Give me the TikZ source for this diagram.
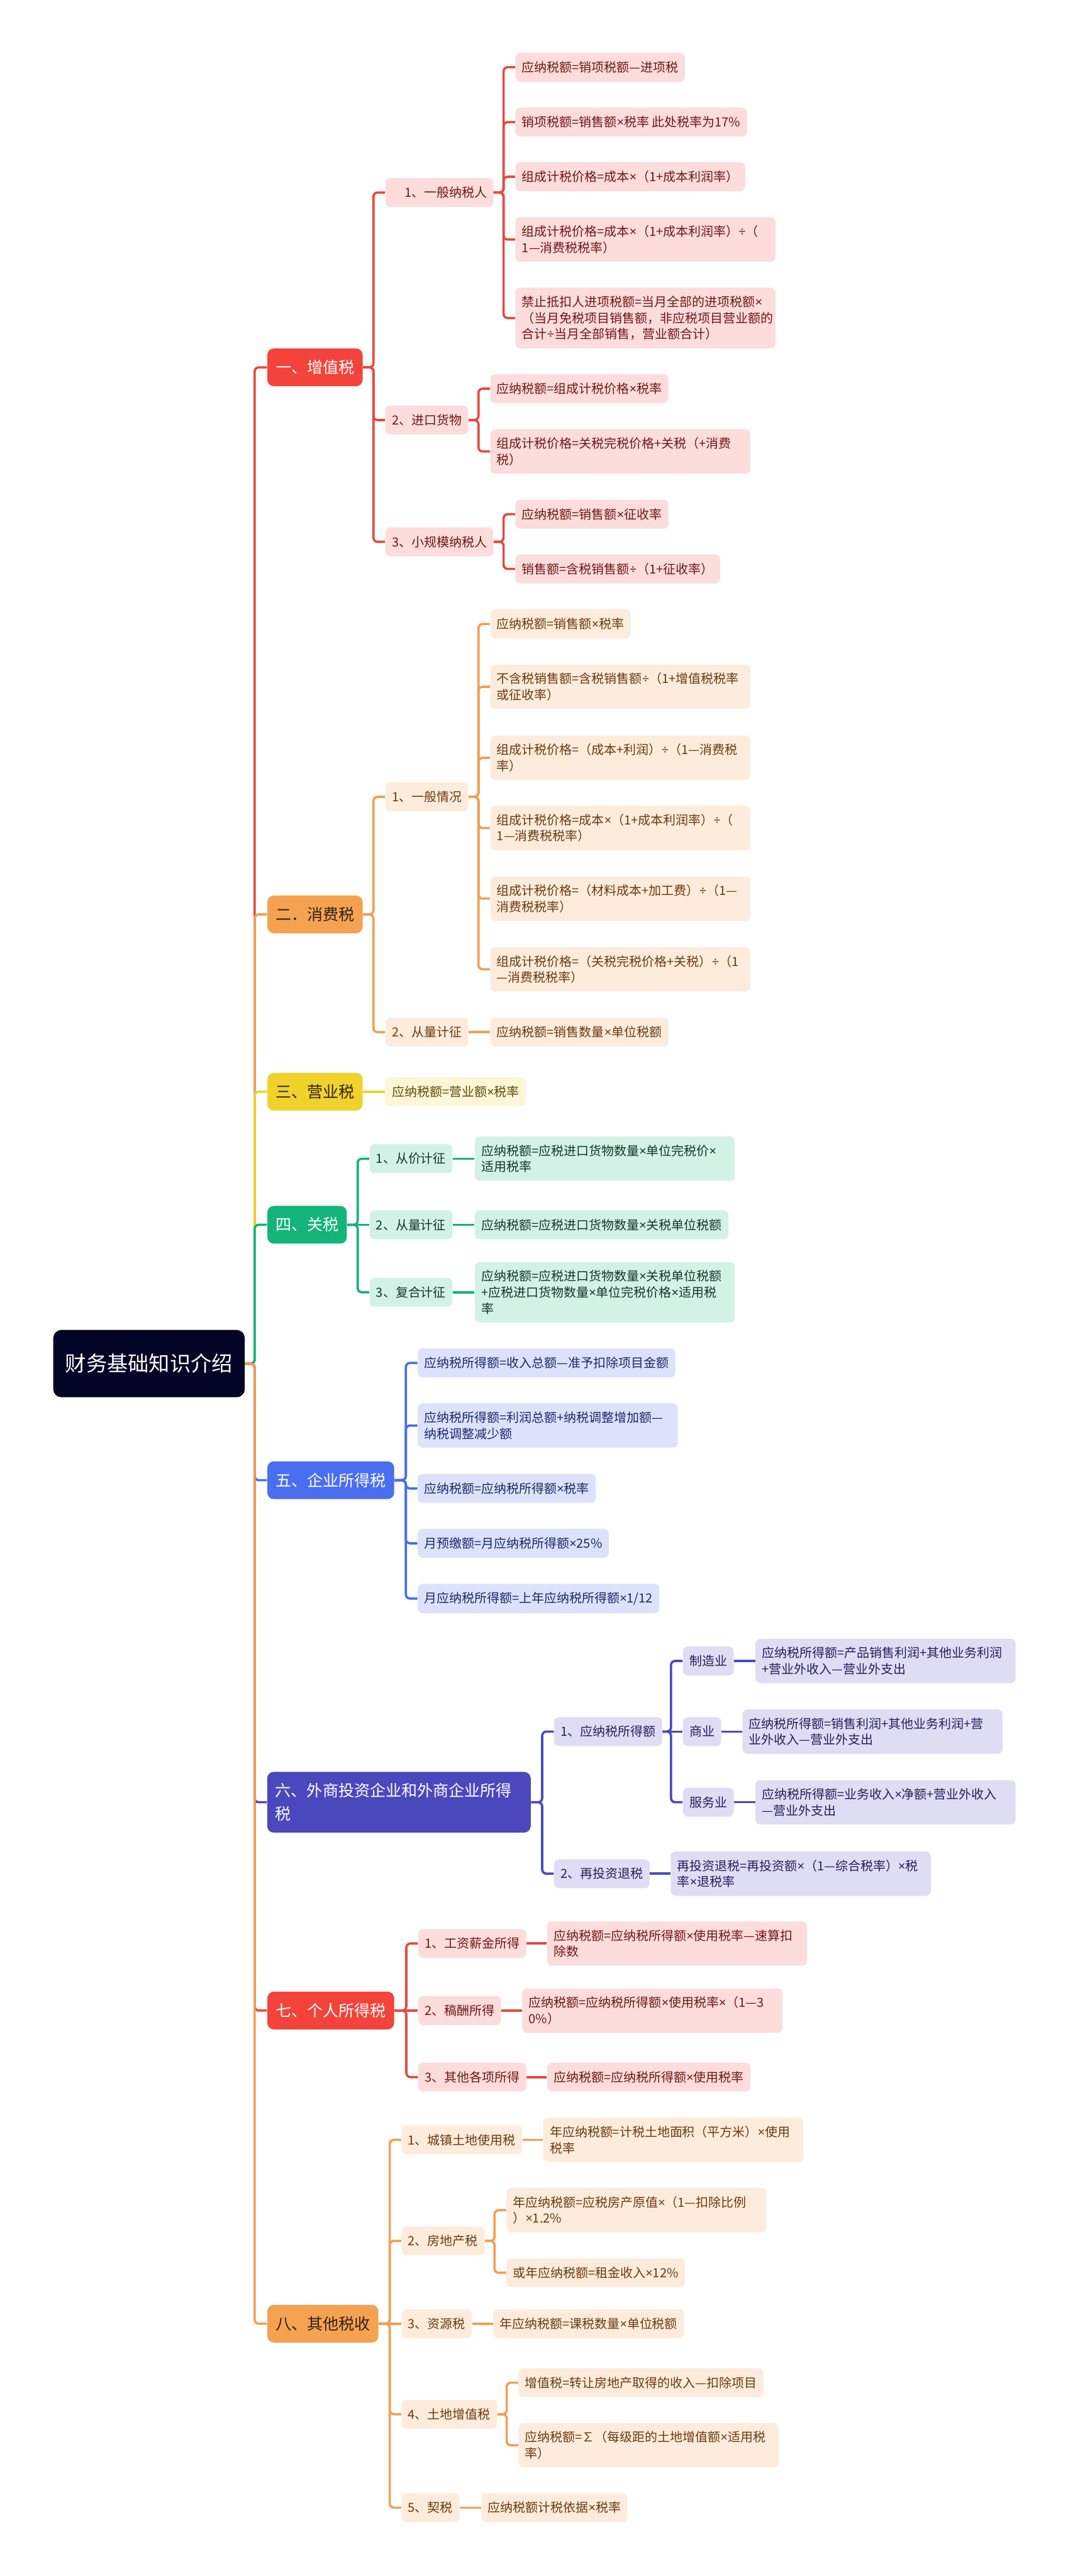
\documentclass[tikz,border=0pt]{standalone}
\usepackage{fontspec}
\setmainfont{Noto Sans CJK SC}
\newfontfamily\latinfont{Noto Sans}

\definecolor{rootcol}{RGB}{3,4,38}
\definecolor{redD}{RGB}{244,67,58}
\definecolor{redL}{RGB}{253,220,220}
\definecolor{redT}{RGB}{110,22,22}
\definecolor{redC}{RGB}{232,72,62}
\definecolor{orgD}{RGB}{245,162,80}
\definecolor{orgL}{RGB}{253,236,220}
\definecolor{orgT}{RGB}{105,58,12}
\definecolor{orgC}{RGB}{240,160,85}
\definecolor{darkT}{RGB}{48,34,20}
\definecolor{ylwD}{RGB}{240,210,45}
\definecolor{ylwL}{RGB}{253,246,215}
\definecolor{ylwT}{RGB}{90,75,5}
\definecolor{ylwC}{RGB}{240,208,50}
\definecolor{grnD}{RGB}{20,180,122}
\definecolor{grnL}{RGB}{210,242,229}
\definecolor{grnT}{RGB}{20,55,42}
\definecolor{grnC}{RGB}{20,178,122}
\definecolor{bluD}{RGB}{74,110,240}
\definecolor{bluL}{RGB}{220,226,251}
\definecolor{bluT}{RGB}{28,40,105}
\definecolor{bluC}{RGB}{74,108,240}
\definecolor{indD}{RGB}{75,72,190}
\definecolor{indL}{RGB}{222,221,244}
\definecolor{indT}{RGB}{35,33,90}
\definecolor{indC}{RGB}{75,73,190}

\newcommand{\rootfont}{\fontsize{12.75}{15}\selectfont}
\newcommand{\topfont}{\fontsize{9.6}{14}\selectfont}
\newcommand{\subfont}{\fontsize{7.65}{9.8}\selectfont}
% narrow multiplication and division signs
\newcommand{\xmul}{{\latinfont ×}}
\newcommand{\xdiv}{{\latinfont ÷}}

\tikzset{
  rootbox/.style={fill=rootcol, text=white, rounded corners=5, font=\rootfont,
    inner xsep=7.3, minimum height=41, anchor=west},
  topbox/.style={rounded corners=4, font=\topfont, inner xsep=5, inner ysep=6,
    minimum height=23, anchor=west},
  subbox/.style={rounded corners=3, font=\subfont, inner xsep=4, inner ysep=5,
    minimum height=17.6, anchor=west},
  wrapbox/.style={text width=150.3pt, align=left},
  topred/.style={topbox, fill=redD, text=white},
  subred/.style={subbox, fill=redL, text=redT},
  toporg/.style={topbox, fill=orgD, text=darkT},
  suborg/.style={subbox, fill=orgL, text=orgT},
  topylw/.style={topbox, fill=ylwD, text=darkT},
  subylw/.style={subbox, fill=ylwL, text=ylwT},
  topgrn/.style={topbox, fill=grnD, text=white},
  subgrn/.style={subbox, fill=grnL, text=grnT},
  topblu/.style={topbox, fill=bluD, text=white},
  subblu/.style={subbox, fill=bluL, text=bluT},
  topind/.style={topbox, fill=indD, text=white},
  subind/.style={subbox, fill=indL, text=indT},
  conn/.style={line width=1.4pt, rounded corners=2.5}
}

\begin{document}
\begin{tikzpicture}[x=1pt,y=1pt,yscale=-1]
\useasboundingbox (0,0) rectangle (650,1568);

% root
\node[rootbox] (root) at (32.2,830) {财务基础知识介绍};

% 一、增值税
\node[topred] (t1) at (162.5,223.6) {一、增值税};
\node[subred] (t1a) at (234.3,117.2) {\hspace{1em}1、一般纳税人};
\node[subred] (t1a1) at (313.5,40.9) {应纳税额=销项税额—进项税};
\node[subred] (t1a2) at (313.5,74.3) {销项税额=销售额\xmul 税率 此处税率为17\%};
\node[subred] (t1a3) at (313.5,107.6) {组成计税价格=成本\xmul（1+成本利润率）};
\node[subred,wrapbox] (t1a4) at (313.5,145.8) {组成计税价格=成本\xmul（1+成本利润率）\xdiv（\\1—消费税税率）};
\node[subred,wrapbox] (t1a5) at (313.5,193.6) {禁止抵扣人进项税额=当月全部的进项税额\xmul\\（当月免税项目销售额，非应税项目营业额的\\合计\xdiv 当月全部销售，营业额合计）};
\node[subred] (t1b) at (234.3,255.7) {2、进口货物};
\node[subred] (t1b1) at (298.2,236.6) {应纳税额=组成计税价格\xmul 税率};
\node[subred,wrapbox] (t1b2) at (298.2,274.8) {组成计税价格=关税完税价格+关税（+消费\\税）};
\node[subred] (t1c) at (234.3,329.8) {3、小规模纳税人};
\node[subred] (t1c1) at (313.5,313) {应纳税额=销售额\xmul 征收率};
\node[subred] (t1c2) at (313.5,346.3) {销售额=含税销售额\xdiv（1+征收率）};

% 二、消费税
\node[toporg] (t2) at (162.5,556.6) {二．消费税};
\node[suborg] (t2a) at (234.3,485) {1、一般情况};
\node[suborg] (t2a1) at (298.2,379.8) {应纳税额=销售额\xmul 税率};
\node[suborg,wrapbox] (t2a2) at (298.2,418) {不含税销售额=含税销售额\xdiv（1+增值税税率\\或征收率）};
\node[suborg,wrapbox] (t2a3) at (298.2,461.3) {组成计税价格=（成本+利润）\xdiv（1—消费税\\率）};
\node[suborg,wrapbox] (t2a4) at (298.2,504) {组成计税价格=成本\xmul（1+成本利润率）\xdiv（\\1—消费税税率）};
\node[suborg,wrapbox] (t2a5) at (298.2,547) {组成计税价格=（材料成本+加工费）\xdiv（1—\\消费税税率）};
\node[suborg,wrapbox] (t2a6) at (298.2,590) {组成计税价格=（关税完税价格+关税）\xdiv（1\\—消费税税率）};
\node[suborg] (t2b) at (234.3,628.3) {2、从量计征};
\node[suborg] (t2b1) at (298.2,628.3) {应纳税额=销售数量\xmul 单位税额};

% 三、营业税
\node[topylw] (t3) at (162.5,664.5) {三、营业税};
\node[subylw] (t3a) at (234.4,664.5) {应纳税额=营业额\xmul 税率};

% 四、关税
\node[topgrn] (t4) at (162.5,745.5) {四、关税};
\node[subgrn] (t4a) at (224.7,705.3) {1、从价计征};
\node[subgrn,wrapbox] (t4a1) at (288.8,705.3) {应纳税额=应税进口货物数量\xmul 单位完税价\xmul\\适用税率};
\node[subgrn] (t4b) at (224.7,745.5) {2、从量计征};
\node[subgrn] (t4b1) at (288.8,745.5) {应纳税额=应税进口货物数量\xmul 关税单位税额};
\node[subgrn] (t4c) at (224.7,786.6) {3、复合计征};
\node[subgrn,wrapbox] (t4c1) at (288.8,786.6) {应纳税额=应税进口货物数量\xmul 关税单位税额\\+应税进口货物数量\xmul 单位完税价格\xmul 适用税\\率};

% 五、企业所得税
\node[topblu] (t5) at (162.5,901) {五、企业所得税};
\node[subblu] (t5a) at (254,829.6) {应纳税所得额=收入总额—准予扣除项目金额};
\node[subblu,wrapbox] (t5b) at (254,867.7) {应纳税所得额=利润总额+纳税调整增加额—\\纳税调整减少额};
\node[subblu] (t5c) at (254,906) {应纳税额=应纳税所得额\xmul 税率};
\node[subblu] (t5d) at (254,939.4) {月预缴额=月应纳税所得额\xmul 25\%};
\node[subblu] (t5e) at (254,973) {月应纳税所得额=上年应纳税所得额\xmul 1/12};

% 六、外商投资企业和外商企业所得税
\node[topind,text width=150.4pt,align=left,inner ysep=7] (t6) at (162.4,1097) {六、外商投资企业和外商企业所得\\税};
\node[subind] (t6a) at (337,1054) {1、应纳税所得额};
\node[subind] (t6a1) at (415.4,1011) {制造业};
\node[subind,wrapbox] (t6a1x) at (459.6,1011) {应纳税所得额=产品销售利润+其他业务利润\\+营业外收入—营业外支出};
\node[subind] (t6a2) at (415.4,1054) {商业};
\node[subind,wrapbox] (t6a2x) at (451.7,1054) {应纳税所得额=销售利润+其他业务利润+营\\业外收入—营业外支出};
\node[subind] (t6a3) at (415.4,1097) {服务业};
\node[subind,wrapbox] (t6a3x) at (459.6,1097) {应纳税所得额=业务收入\xmul 净额+营业外收入\\—营业外支出};
\node[subind] (t6b) at (337,1140.5) {2、再投资退税};
\node[subind,wrapbox] (t6b1) at (408,1140.5) {再投资退税=再投资额\xmul（1—综合税率）\xmul 税\\率\xmul 退税率};

% 七、个人所得税
\node[topred] (t7) at (162.5,1223.8) {七、个人所得税};
\node[subred] (t7a) at (254.3,1183) {1、工资薪金所得};
\node[subred,wrapbox] (t7a1) at (332.8,1183) {应纳税额=应纳税所得额\xmul 使用税率—速算扣\\除数};
\node[subred] (t7b) at (254.3,1223.8) {2、稿酬所得};
\node[subred,wrapbox] (t7b1) at (317.7,1223.8) {应纳税额=应纳税所得额\xmul 使用税率\xmul（1—3\\0\%）};
\node[subred] (t7c) at (254.3,1264.3) {3、其他各项所得};
\node[subred] (t7c1) at (332.8,1264.3) {应纳税额=应纳税所得额\xmul 使用税率};

% 八、其他税收
\node[toporg] (t8) at (162.5,1414.4) {八、其他税收};
\node[suborg] (t8a) at (244.2,1302.5) {1、城镇土地使用税};
\node[suborg,wrapbox] (t8a1) at (330.4,1302.5) {年应纳税额=计税土地面积（平方米）\xmul 使用\\税率};
\node[suborg] (t8b) at (244.2,1364) {2、房地产税};
\node[suborg,wrapbox] (t8b1) at (308,1345.3) {年应纳税额=应税房产原值\xmul（1—扣除比例\\）\xmul 1.2\%};
\node[suborg] (t8b2) at (308,1383.4) {或年应纳税额=租金收入\xmul 12\%};
\node[suborg] (t8c) at (244.2,1414.4) {3、资源税};
\node[suborg] (t8c1) at (300,1414.4) {年应纳税额=课税数量\xmul 单位税额};
\node[suborg] (t8d) at (244.2,1469.5) {4、土地增值税};
\node[suborg] (t8d1) at (315.4,1450.3) {增值税=转让房地产取得的收入—扣除项目};
\node[suborg,wrapbox] (t8d2) at (315.4,1488.4) {应纳税额=∑（每级距的土地增值额\xmul 适用税\\率）};
\node[suborg] (t8e) at (244.2,1526.4) {5、契税};
\node[suborg] (t8e1) at (292.8,1526.4) {应纳税额计税依据\xmul 税率};

% trunk
\foreach \t/\c in {t1/redC,t2/orgC,t3/ylwC,t4/grnC,t5/bluC,t6/indC,t7/redC,t8/orgC}
  \draw[conn,draw=\c] (root.east) -| ([xshift=-7.5pt]\t.west) -- (\t.west);

% branch lines
\foreach \c in {t1a,t1b,t1c}
  \draw[conn,draw=redC] (t1.east) -| ([xshift=-7pt]\c.west) -- (\c.west);
\foreach \c in {t1a1,t1a2,t1a3,t1a4,t1a5}
  \draw[conn,draw=redC] (t1a.east) -| ([xshift=-7pt]\c.west) -- (\c.west);
\foreach \c in {t1b1,t1b2}
  \draw[conn,draw=redC] (t1b.east) -| ([xshift=-7pt]\c.west) -- (\c.west);
\foreach \c in {t1c1,t1c2}
  \draw[conn,draw=redC] (t1c.east) -| ([xshift=-7pt]\c.west) -- (\c.west);

\foreach \c in {t2a,t2b}
  \draw[conn,draw=orgC] (t2.east) -| ([xshift=-7pt]\c.west) -- (\c.west);
\foreach \c in {t2a1,t2a2,t2a3,t2a4,t2a5,t2a6}
  \draw[conn,draw=orgC] (t2a.east) -| ([xshift=-7pt]\c.west) -- (\c.west);
\draw[conn,draw=orgC] (t2b.east) -- (t2b1.west);

\draw[conn,draw=ylwC] (t3.east) -- (t3a.west);

\foreach \c in {t4a,t4c}
  \draw[conn,draw=grnC] (t4.east) -| ([xshift=-7pt]\c.west) -- (\c.west);
\draw[conn,draw=grnC] (t4.east) -- (t4b.west);
\draw[conn,draw=grnC] (t4a.east) -- (t4a1.west);
\draw[conn,draw=grnC] (t4b.east) -- (t4b1.west);
\draw[conn,draw=grnC] (t4c.east) -- (t4c1.west);

\foreach \c in {t5a,t5b,t5c,t5d,t5e}
  \draw[conn,draw=bluC] (t5.east) -| ([xshift=-7pt]\c.west) -- (\c.west);

\foreach \c in {t6a,t6b}
  \draw[conn,draw=indC] (t6.east) -| ([xshift=-7pt]\c.west) -- (\c.west);
\foreach \c in {t6a1,t6a3}
  \draw[conn,draw=indC] (t6a.east) -| ([xshift=-7pt]\c.west) -- (\c.west);
\draw[conn,draw=indC] (t6a.east) -- (t6a2.west);
\draw[conn,draw=indC] (t6a1.east) -- (t6a1x.west);
\draw[conn,draw=indC] (t6a2.east) -- (t6a2x.west);
\draw[conn,draw=indC] (t6a3.east) -- (t6a3x.west);
\draw[conn,draw=indC] (t6b.east) -- (t6b1.west);

\foreach \c in {t7a,t7c}
  \draw[conn,draw=redC] (t7.east) -| ([xshift=-7pt]\c.west) -- (\c.west);
\draw[conn,draw=redC] (t7.east) -- (t7b.west);
\draw[conn,draw=redC] (t7a.east) -- (t7a1.west);
\draw[conn,draw=redC] (t7b.east) -- (t7b1.west);
\draw[conn,draw=redC] (t7c.east) -- (t7c1.west);

\foreach \c in {t8a,t8b,t8d,t8e}
  \draw[conn,draw=orgC] (t8.east) -| ([xshift=-7pt]\c.west) -- (\c.west);
\draw[conn,draw=orgC] (t8.east) -- (t8c.west);
\draw[conn,draw=orgC] (t8a.east) -- (t8a1.west);
\foreach \c in {t8b1,t8b2}
  \draw[conn,draw=orgC] (t8b.east) -| ([xshift=-7pt]\c.west) -- (\c.west);
\draw[conn,draw=orgC] (t8c.east) -- (t8c1.west);
\foreach \c in {t8d1,t8d2}
  \draw[conn,draw=orgC] (t8d.east) -| ([xshift=-7pt]\c.west) -- (\c.west);
\draw[conn,draw=orgC] (t8e.east) -- (t8e1.west);

\end{tikzpicture}
\end{document}
